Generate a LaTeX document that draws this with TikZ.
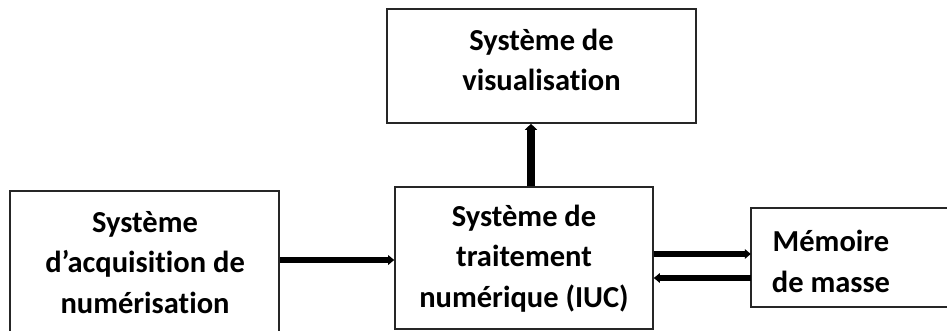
\documentclass[tikz,border=0pt]{standalone}
\usepackage{fontspec}
\setmainfont{Carlito}[Ligatures=NoCommon]
\usetikzlibrary{arrows.meta}
\begin{document}
\begin{tikzpicture}[x=1pt,y=-1pt,
  box/.style={draw=black!85, line width=1.6pt, minimum width=#1, inner sep=0pt},
  openbox/.style={draw=none, minimum width=#1, inner sep=0pt},
  edge line/.style={draw=black!85, line width=1.6pt},
  lbl/.style={font=\fontsize{30.5}{40.5}\selectfont\bfseries, align=center, inner sep=0pt},
  thick arrow/.style={line width=#1, -{Triangle[length=6pt,width=#1+4pt]}}
]
\useasboundingbox (0,0) rectangle (947,331);
\clip (0,0) rectangle (947,331);

% blocks
\node[box=269pt, minimum height=156pt] (acq) at (144.5,269) {};
\node[box=258pt, minimum height=142pt] (trt) at (524,258) {};
\node[box=309pt, minimum height=114pt] (vis) at (541.5,66) {};
% the mass-storage block runs on to the right margin
\node[openbox=196pt, minimum height=99pt] (mem) at (849,257.5) {};
\draw[edge line] (mem.north west) -- (mem.south west);
\draw[edge line] ([xshift=-0.8pt]mem.north west) -- (mem.north east);
\draw[edge line] ([xshift=-0.8pt]mem.south west) -- (mem.south east);

% block texts
\node[lbl] (acqtxt) at (145,262.5) {Système\\d’acquisition de\\numérisation};
\node[lbl] (trttxt) at (524,258.5) {Système de\\traitement\\numérique (IUC)};
\node[lbl] (vistxt) at (541.5,60) {Système de\\visualisation};
\node[lbl] (memtxt) at (831,261.5) {Mémoire\\de masse};

% connectors
\coordinate (upx) at (531,0);
\coordinate (rowa) at (0,260);
\coordinate (rowb) at (0,254);
\coordinate (rowc) at (0,278);
\draw[thick arrow=8pt] (trt.north -| upx) -- (vis.south -| upx);
\draw[thick arrow=5.5pt] (acq.east |- rowa) -- (trt.west |- rowa);
\draw[thick arrow=5.5pt] (trt.east |- rowb) -- (mem.west |- rowb);
\draw[thick arrow=5.5pt] (mem.west |- rowc) -- (trt.east |- rowc);
\end{tikzpicture}
\end{document}
